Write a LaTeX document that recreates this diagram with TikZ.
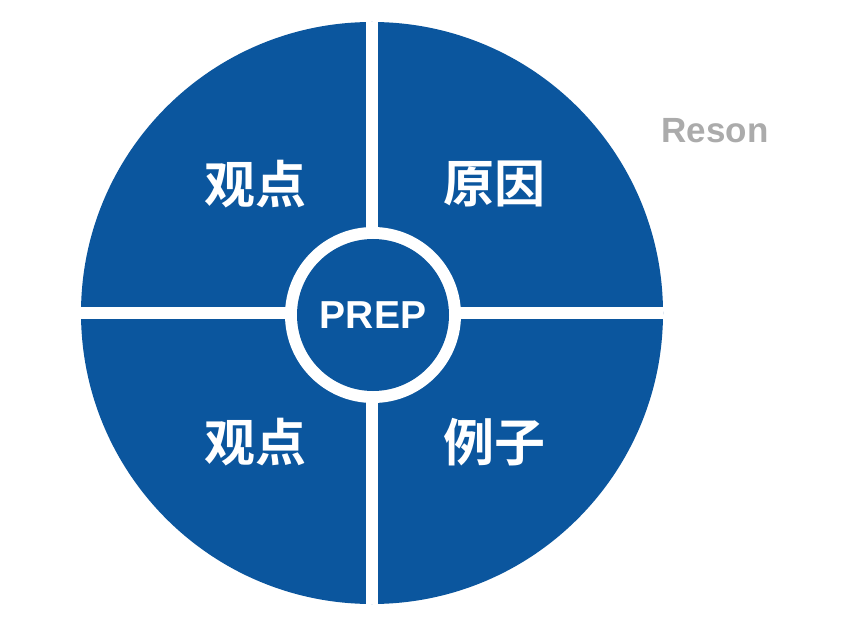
\documentclass[tikz,border=0pt]{standalone}
\usepackage{fontspec}
\setmainfont{Liberation Sans}
\newfontfamily\cjk{Noto Sans CJK SC}[BoldFont={* Bold}]
\definecolor{prepblue}{HTML}{0B569E}
\definecolor{resongray}{HTML}{ABABAB}
\begin{document}
\begin{tikzpicture}[x=1pt,y=-1pt,
  quad/.style={text=white,font=\cjk\bfseries\fontsize{51}{51}\selectfont},
  gap/.style={white,line width=12pt}]
\useasboundingbox (0,0) rectangle (854,628);
\fill[white] (0,0) rectangle (854,628);
\node[circle,fill=prepblue,minimum size=582pt,inner sep=0] (big) at (372,313) {};
\draw[gap] (big.north) -- (big.south);
\draw[gap] (big.west) -- (big.east);
\node[circle,fill=white,minimum size=176pt,inner sep=0] (ring) at (373,315) {};
\node[circle,fill=prepblue,minimum size=152pt,inner sep=0,text=white,
  font=\bfseries\fontsize{39}{39}\selectfont] (prep) at (373,315) {PREP};
\node[quad] (q1) at (255,184) {观点};
\node[quad] (q2) at (494,184) {原因};
\node[quad] (q3) at (255,442) {观点};
\node[quad] (q4) at (494,442) {例子};
\node[text=resongray,font=\bfseries\fontsize{35}{35}\selectfont] (reson) at (715,131) {Reson};
\end{tikzpicture}
\end{document}
